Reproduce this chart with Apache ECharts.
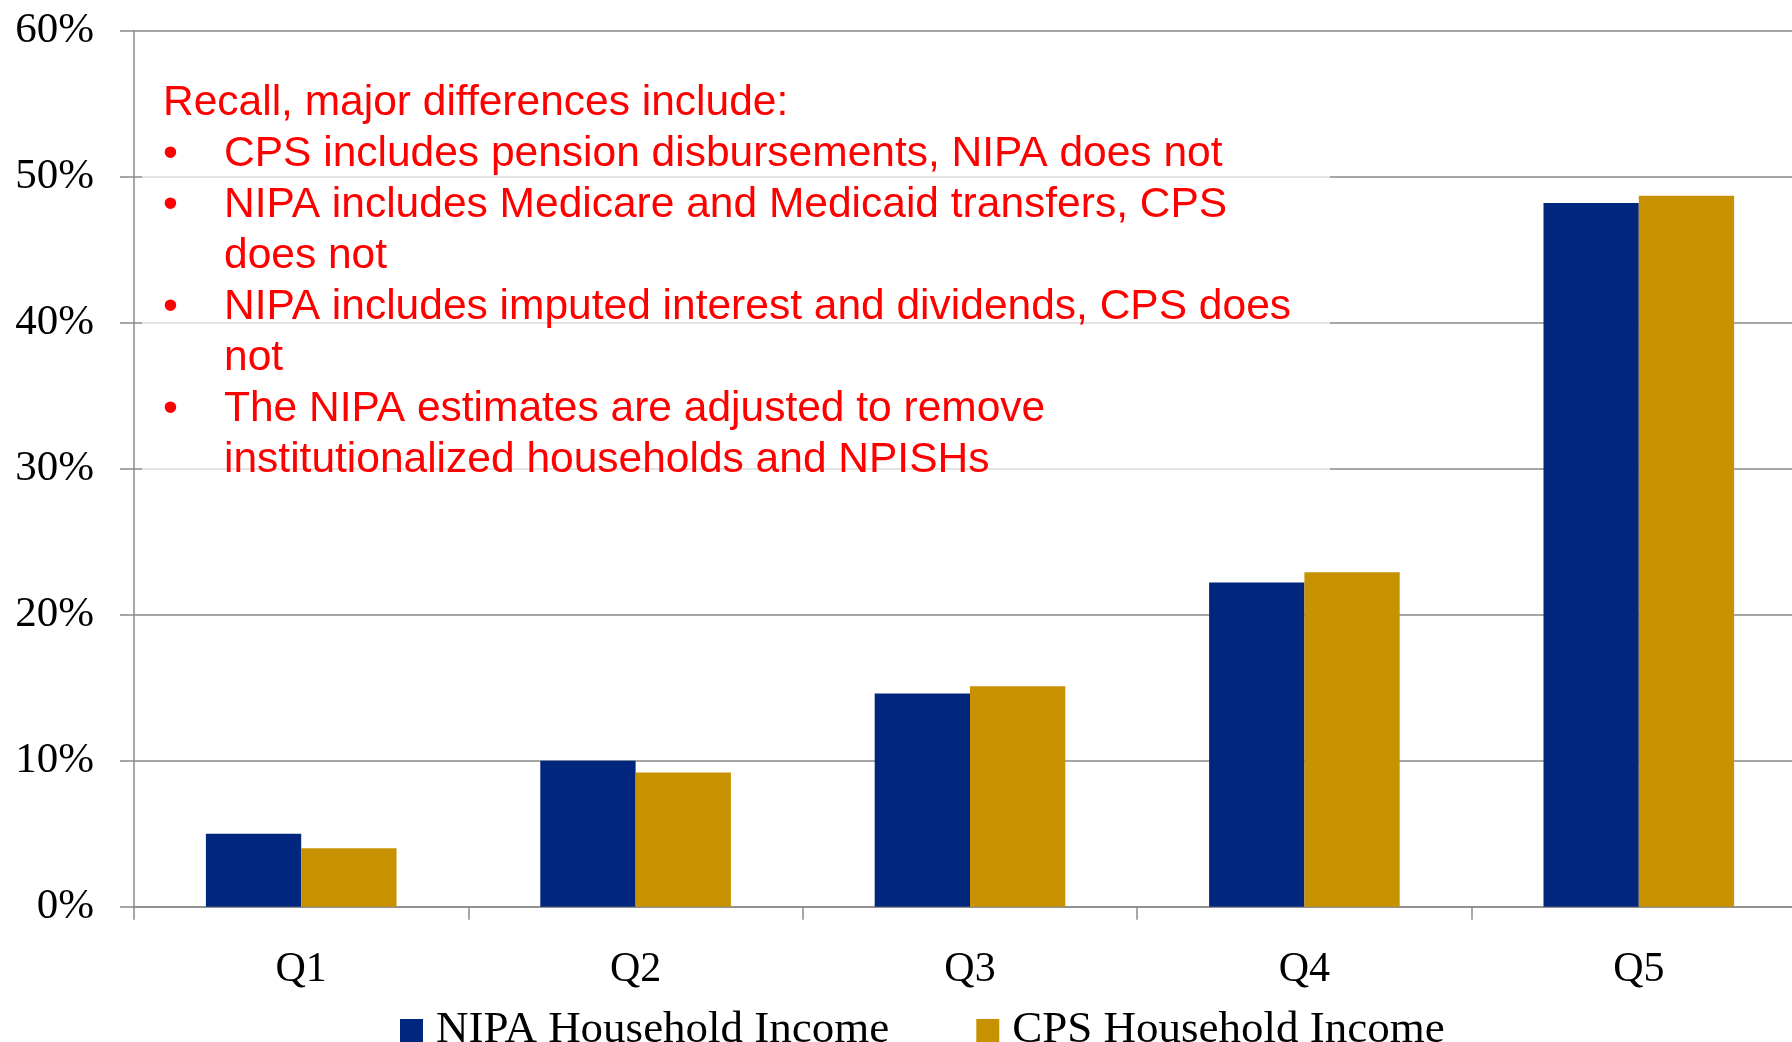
<!DOCTYPE html>
<html>
<head>
<meta charset="utf-8">
<title>NIPA vs CPS household income shares</title>
<script src="https://cdn.jsdelivr.net/npm/echarts@6/dist/echarts.min.js"></script>
<style>
  html, body { margin: 0; padding: 0; background: #fff; }
  #chart { width: 1792px; height: 1042px; }
</style>
</head>
<body>
<div id="chart"></div>
<script>
// quintiles and income shares (percent)
var categories = ['Q1', 'Q2', 'Q3', 'Q4', 'Q5'];
var nipaValues = [5.0, 10.0, 14.6, 22.2, 48.2];
var cpsValues = [4.0, 9.2, 15.1, 22.9, 48.7];
var yMin = 0, yMax = 60, yStep = 10;

// annotation text
var noteTitle = 'Recall, major differences include:';
var noteBullets = [
  ['CPS includes pension disbursements, NIPA does not'],
  ['NIPA includes Medicare and Medicaid transfers, CPS', 'does not'],
  ['NIPA includes imputed interest and dividends, CPS does', 'not'],
  ['The NIPA estimates are adjusted to remove', 'institutionalized households and NPISHs']
];

var gray = '#8a8a8a';
var serif = '"Liberation Serif", "DejaVu Serif", serif';
var sans = '"Liberation Sans", Arial, sans-serif';

// build annotation graphics
var noteFont = '42.5px ' + sans;
var lineH = 51, firstBase = 113;
var graphics = [{
  type: 'rect',
  z: 100,
  shape: { x: 142, y: 58, width: 1188, height: 422 },
  style: { fill: 'rgba(255,255,255,0.68)' }
}, {
  type: 'text',
  z: 101,
  x: 163, y: firstBase - 10,
  style: { text: noteTitle, font: noteFont, fill: '#ff0000', verticalAlign: 'middle' }
}];
var row = 1;
noteBullets.forEach(function (b) {
  graphics.push({
    type: 'text', z: 101,
    x: 163, y: firstBase + lineH * row - 10,
    style: { text: '\u2022', font: noteFont, fill: '#ff0000', verticalAlign: 'middle' }
  });
  b.forEach(function (line) {
    graphics.push({
      type: 'text', z: 101,
      x: 224, y: firstBase + lineH * row - 10,
      style: { text: line, font: noteFont, fill: '#ff0000', verticalAlign: 'middle' }
    });
    row++;
  });
});

var myChart = echarts.init(document.getElementById('chart'));
var option = {
  animation: false,
  backgroundColor: '#fff',
  // plot runs a little past the right edge of the picture
  grid: { left: 134, width: 1672, top: 30.7, height: 876, containLabel: false, outerBoundsMode: 'none' },
  legend: {
    left: 400,
    top: 1008,
    padding: 0,
    itemWidth: 23,
    itemHeight: 23,
    itemGap: 87,
    icon: 'rect',
    textStyle: { fontFamily: serif, fontSize: 45, color: '#000', padding: [0, 0, 0, 8] },
    data: ['NIPA Household Income', 'CPS Household Income']
  },
  xAxis: {
    type: 'category',
    data: categories,
    axisLine: { lineStyle: { color: gray, width: 1.5 } },
    axisTick: { show: true, length: 13, lineStyle: { color: gray, width: 1.5 } },
    axisLabel: { fontFamily: serif, fontSize: 42, color: '#000', margin: 42 }
  },
  yAxis: {
    type: 'value',
    min: yMin,
    max: yMax,
    interval: yStep,
    axisLine: { show: true, lineStyle: { color: gray, width: 1.5 } },
    axisTick: { show: true, length: 14, lineStyle: { color: gray, width: 1.5 } },
    axisLabel: { fontFamily: serif, fontSize: 43, color: '#000', margin: 40, formatter: '{value}%' },
    splitLine: { lineStyle: { color: gray, width: 1.5 } }
  },
  series: [{
    name: 'NIPA Household Income',
    type: 'bar',
    barGap: '0%',
    barCategoryGap: '43%',
    itemStyle: { color: '#00277d' },
    data: nipaValues
  }, {
    name: 'CPS Household Income',
    type: 'bar',
    barGap: '0%',
    barCategoryGap: '43%',
    itemStyle: { color: '#c79100' },
    data: cpsValues
  }],
  graphic: graphics
};
myChart.setOption(option);
</script>
</body>
</html>
